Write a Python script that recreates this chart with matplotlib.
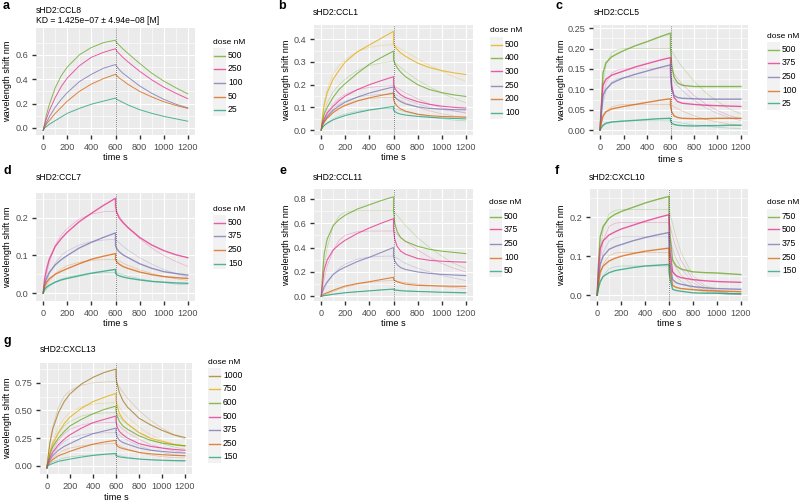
import numpy as np
import matplotlib
matplotlib.use("Agg")
import matplotlib.pyplot as plt
from matplotlib.patches import Rectangle

plt.rcParams['font.family'] = ['Liberation Sans', 'DejaVu Sans']

#       <--- NOTE: DATA --->
#------------------------------------------------------------------------------
# sample times for measured traces (600 twice: step at start of dissociation)
obs_t = [0, 10, 25, 50, 100, 150, 200, 300, 400, 500, 600,
         600, 610, 630, 660, 700, 800, 900, 1000, 1100, 1200]
# sample times for the fitted curves
fit_t = [0, 25, 50, 100, 150, 200, 300, 400, 500, 600,
         650, 700, 800, 900, 1000, 1100, 1200]

# panel a: sHD2:CCL8
a_doses = [500, 250, 100, 50, 25]
a_obs = [
    [-0.02, 0.03, 0.10, 0.19, 0.33, 0.43, 0.50, 0.60, 0.66, 0.70, 0.72, 0.72, 0.70, 0.68, 0.65, 0.615, 0.53, 0.45, 0.385, 0.33, 0.28],
    [-0.02, 0.02, 0.07, 0.14, 0.25, 0.34, 0.41, 0.51, 0.58, 0.62, 0.65, 0.65, 0.63, 0.61, 0.58, 0.545, 0.465, 0.395, 0.335, 0.285, 0.24],
    [-0.02, 0.01, 0.04, 0.09, 0.17, 0.235, 0.29, 0.38, 0.44, 0.49, 0.52, 0.52, 0.505, 0.48, 0.45, 0.42, 0.345, 0.285, 0.235, 0.195, 0.165],
    [-0.02, 0.0, 0.03, 0.06, 0.12, 0.17, 0.22, 0.30, 0.36, 0.405, 0.44, 0.44, 0.43, 0.41, 0.39, 0.36, 0.30, 0.255, 0.215, 0.185, 0.16],
    [-0.02, 0.0, 0.01, 0.03, 0.06, 0.09, 0.12, 0.16, 0.195, 0.22, 0.245, 0.245, 0.235, 0.225, 0.21, 0.19, 0.15, 0.12, 0.095, 0.075, 0.055],
]
a_fit = None

# panel b: sHD2:CCL1
b_doses = [500, 400, 300, 250, 200, 100]
b_obs = [
    [0.0, 0.06, 0.11, 0.165, 0.225, 0.265, 0.30, 0.345, 0.375, 0.405, 0.435, 0.38, 0.37, 0.355, 0.34, 0.325, 0.295, 0.275, 0.262, 0.252, 0.245],
    [0.0, 0.04, 0.07, 0.10, 0.145, 0.18, 0.205, 0.25, 0.29, 0.32, 0.348, 0.31, 0.295, 0.275, 0.255, 0.235, 0.20, 0.178, 0.165, 0.155, 0.148],
    [0.0, 0.03, 0.05, 0.075, 0.105, 0.13, 0.15, 0.178, 0.20, 0.218, 0.235, 0.20, 0.185, 0.17, 0.155, 0.143, 0.125, 0.113, 0.105, 0.10, 0.097],
    [0.0, 0.025, 0.04, 0.06, 0.088, 0.107, 0.123, 0.145, 0.163, 0.177, 0.19, 0.16, 0.148, 0.135, 0.125, 0.115, 0.102, 0.095, 0.092, 0.09, 0.089],
    [0.0, 0.02, 0.035, 0.052, 0.077, 0.095, 0.108, 0.128, 0.142, 0.153, 0.163, 0.135, 0.12, 0.105, 0.093, 0.083, 0.07, 0.063, 0.06, 0.058, 0.057],
    [0.0, 0.012, 0.02, 0.03, 0.045, 0.055, 0.064, 0.077, 0.088, 0.096, 0.104, 0.088, 0.082, 0.075, 0.07, 0.066, 0.06, 0.056, 0.053, 0.051, 0.049],
]
b_fit = [
    [0.0, 0.12, 0.18, 0.25, 0.285, 0.31, 0.345, 0.365, 0.373, 0.376, 0.36, 0.345, 0.315, 0.285, 0.26, 0.235, 0.215],
    [0.0, 0.08, 0.12, 0.17, 0.2, 0.225, 0.262, 0.284, 0.296, 0.302, 0.28, 0.258, 0.22, 0.19, 0.163, 0.14, 0.12],
    [0.0, 0.05, 0.08, 0.115, 0.14, 0.158, 0.178, 0.188, 0.193, 0.196, 0.18, 0.163, 0.138, 0.115, 0.098, 0.085, 0.074],
    [0.0, 0.04, 0.065, 0.095, 0.115, 0.128, 0.145, 0.153, 0.157, 0.159, 0.147, 0.135, 0.115, 0.1, 0.09, 0.083, 0.078],
    [0.0, 0.035, 0.055, 0.083, 0.1, 0.113, 0.13, 0.139, 0.143, 0.145, 0.133, 0.12, 0.1, 0.084, 0.072, 0.062, 0.055],
    [0.0, 0.02, 0.032, 0.05, 0.062, 0.071, 0.083, 0.09, 0.094, 0.096, 0.088, 0.08, 0.068, 0.058, 0.05, 0.044, 0.04],
]

# panel c: sHD2:CCL5
c_doses = [500, 375, 250, 100, 25]
c_obs = [
    [0.0, 0.06, 0.14, 0.165, 0.18, 0.188, 0.195, 0.207, 0.217, 0.228, 0.238, 0.20, 0.16, 0.13, 0.116, 0.11, 0.107, 0.107, 0.107, 0.107, 0.107],
    [0.0, 0.05, 0.11, 0.125, 0.135, 0.14, 0.145, 0.155, 0.163, 0.171, 0.178, 0.15, 0.11, 0.08, 0.07, 0.066, 0.063, 0.061, 0.06, 0.059, 0.058],
    [0.0, 0.04, 0.085, 0.10, 0.115, 0.122, 0.128, 0.137, 0.145, 0.153, 0.16, 0.135, 0.10, 0.085, 0.08, 0.078, 0.077, 0.076, 0.076, 0.076, 0.076],
    [0.0, 0.018, 0.035, 0.045, 0.052, 0.055, 0.058, 0.063, 0.068, 0.073, 0.077, 0.06, 0.045, 0.035, 0.031, 0.029, 0.028, 0.028, 0.029, 0.029, 0.029],
    [0.0, 0.006, 0.012, 0.017, 0.02, 0.021, 0.022, 0.024, 0.026, 0.028, 0.029, 0.022, 0.017, 0.014, 0.012, 0.011, 0.01, 0.011, 0.011, 0.012, 0.012],
]
c_fit = [
    [0.0, 0.11, 0.16, 0.19, 0.198, 0.2, 0.2, 0.2, 0.2, 0.2, 0.175, 0.155, 0.12, 0.092, 0.07, 0.052, 0.04],
    [0.0, 0.08, 0.115, 0.14, 0.148, 0.15, 0.15, 0.15, 0.15, 0.15, 0.13, 0.113, 0.085, 0.064, 0.048, 0.036, 0.027],
    [0.0, 0.065, 0.095, 0.118, 0.126, 0.129, 0.13, 0.13, 0.13, 0.13, 0.112, 0.097, 0.073, 0.055, 0.041, 0.031, 0.023],
    [0.0, 0.03, 0.045, 0.057, 0.061, 0.063, 0.063, 0.063, 0.063, 0.063, 0.054, 0.047, 0.035, 0.026, 0.02, 0.015, 0.011],
    [0.0, 0.01, 0.015, 0.02, 0.022, 0.023, 0.023, 0.023, 0.023, 0.023, 0.02, 0.017, 0.013, 0.01, 0.007, 0.005, 0.004],
]

# panel d: sHD2:CCL7
d_doses = [500, 375, 250, 150]
d_obs = [
    [0.0, 0.035, 0.06, 0.09, 0.124, 0.145, 0.162, 0.19, 0.212, 0.233, 0.252, 0.232, 0.215, 0.2, 0.188, 0.175, 0.148, 0.128, 0.113, 0.102, 0.094],
    [0.0, 0.022, 0.037, 0.055, 0.075, 0.089, 0.1, 0.12, 0.135, 0.148, 0.16, 0.127, 0.118, 0.11, 0.102, 0.095, 0.078, 0.066, 0.057, 0.052, 0.048],
    [0.0, 0.017, 0.027, 0.038, 0.05, 0.058, 0.065, 0.078, 0.09, 0.098, 0.105, 0.09, 0.083, 0.077, 0.071, 0.066, 0.056, 0.049, 0.044, 0.041, 0.039],
    [0.0, 0.01, 0.015, 0.021, 0.029, 0.035, 0.039, 0.046, 0.053, 0.058, 0.063, 0.053, 0.049, 0.046, 0.043, 0.04, 0.035, 0.031, 0.029, 0.027, 0.026],
]
d_fit = [
    [0.0, 0.045, 0.08, 0.128, 0.155, 0.172, 0.197, 0.21, 0.216, 0.218, 0.196, 0.176, 0.145, 0.12, 0.1, 0.084, 0.071],
    [0.0, 0.028, 0.05, 0.08, 0.1, 0.112, 0.128, 0.137, 0.141, 0.143, 0.128, 0.115, 0.094, 0.077, 0.063, 0.052, 0.043],
    [0.0, 0.018, 0.032, 0.052, 0.064, 0.073, 0.082, 0.087, 0.089, 0.09, 0.082, 0.074, 0.062, 0.052, 0.044, 0.038, 0.034],
    [0.0, 0.01, 0.018, 0.03, 0.037, 0.042, 0.049, 0.052, 0.054, 0.055, 0.05, 0.045, 0.038, 0.032, 0.028, 0.024, 0.022],
]

# panel e: sHD2:CCL11
e_doses = [500, 375, 250, 100, 50]
e_obs = [
    [0.0, 0.18, 0.35, 0.47, 0.58, 0.63, 0.665, 0.715, 0.75, 0.785, 0.815, 0.70, 0.60, 0.53, 0.48, 0.45, 0.41, 0.385, 0.37, 0.36, 0.35],
    [0.0, 0.1, 0.22, 0.3, 0.38, 0.425, 0.46, 0.515, 0.56, 0.6, 0.636, 0.55, 0.47, 0.41, 0.37, 0.345, 0.31, 0.295, 0.288, 0.283, 0.28],
    [0.0, 0.04, 0.08, 0.12, 0.18, 0.215, 0.24, 0.285, 0.32, 0.36, 0.40, 0.33, 0.29, 0.26, 0.235, 0.22, 0.2, 0.188, 0.18, 0.175, 0.17],
    [0.0, 0.01, 0.02, 0.03, 0.05, 0.068, 0.085, 0.105, 0.12, 0.138, 0.156, 0.14, 0.13, 0.12, 0.11, 0.1, 0.09, 0.087, 0.085, 0.083, 0.082],
    [0.0, 0.003, 0.006, 0.01, 0.018, 0.024, 0.03, 0.038, 0.045, 0.053, 0.06, 0.055, 0.052, 0.049, 0.046, 0.043, 0.04, 0.037, 0.034, 0.032, 0.03],
]
e_fit = [
    [0.0, 0.25, 0.4, 0.58, 0.66, 0.69, 0.7, 0.7, 0.7, 0.7, 0.64, 0.58, 0.48, 0.4, 0.33, 0.27, 0.23],
    [0.0, 0.15, 0.25, 0.38, 0.46, 0.5, 0.53, 0.535, 0.535, 0.535, 0.49, 0.45, 0.38, 0.32, 0.27, 0.23, 0.2],
    [0.0, 0.06, 0.11, 0.18, 0.23, 0.265, 0.305, 0.322, 0.328, 0.33, 0.3, 0.27, 0.23, 0.2, 0.17, 0.15, 0.13],
    [0.0, 0.01, 0.02, 0.04, 0.06, 0.075, 0.1, 0.115, 0.125, 0.13, 0.12, 0.112, 0.1, 0.09, 0.08, 0.072, 0.065],
    [0.0, 0.004, 0.008, 0.015, 0.022, 0.028, 0.038, 0.046, 0.052, 0.056, 0.052, 0.048, 0.042, 0.037, 0.032, 0.028, 0.025],
]

# panel f: sHD2:CXCL10
f_doses = [750, 500, 375, 250, 150]
f_obs = [
    [0.0, 0.08, 0.15, 0.177, 0.198, 0.208, 0.215, 0.226, 0.237, 0.246, 0.254, 0.2, 0.15, 0.09, 0.075, 0.067, 0.06, 0.058, 0.057, 0.055, 0.053],
    [0.0, 0.06, 0.12, 0.14, 0.155, 0.163, 0.17, 0.18, 0.19, 0.199, 0.207, 0.16, 0.11, 0.06, 0.05, 0.045, 0.04, 0.037, 0.035, 0.034, 0.033],
    [0.0, 0.04, 0.08, 0.1, 0.118, 0.125, 0.13, 0.14, 0.148, 0.155, 0.161, 0.12, 0.08, 0.04, 0.032, 0.028, 0.022, 0.019, 0.017, 0.016, 0.015],
    [0.0, 0.03, 0.06, 0.075, 0.088, 0.095, 0.1, 0.107, 0.113, 0.117, 0.121, 0.09, 0.06, 0.025, 0.02, 0.017, 0.014, 0.012, 0.011, 0.01, 0.009],
    [0.0, 0.018, 0.035, 0.048, 0.058, 0.063, 0.066, 0.071, 0.075, 0.077, 0.079, 0.06, 0.04, 0.015, 0.012, 0.01, 0.006, 0.005, 0.005, 0.004, 0.004],
]
f_fit = [
    [0.0, 0.11, 0.17, 0.21, 0.218, 0.22, 0.22, 0.22, 0.22, 0.22, 0.16, 0.11, 0.05, 0.025, 0.012, 0.006, 0.003],
    [0.0, 0.09, 0.14, 0.177, 0.185, 0.187, 0.187, 0.187, 0.187, 0.187, 0.13, 0.09, 0.04, 0.02, 0.01, 0.005, 0.002],
    [0.0, 0.07, 0.11, 0.14, 0.148, 0.15, 0.15, 0.15, 0.15, 0.15, 0.1, 0.07, 0.032, 0.015, 0.008, 0.004, 0.002],
    [0.0, 0.05, 0.08, 0.102, 0.108, 0.11, 0.11, 0.11, 0.11, 0.11, 0.075, 0.052, 0.024, 0.011, 0.006, 0.003, 0.001],
    [0.0, 0.03, 0.05, 0.068, 0.073, 0.075, 0.075, 0.075, 0.075, 0.075, 0.052, 0.036, 0.016, 0.008, 0.004, 0.002, 0.001],
]

# panel g: sHD2:CXCL13
g_doses = [1000, 750, 600, 500, 375, 250, 150]
g_obs = [
    [-0.02, 0.08, 0.2, 0.33, 0.48, 0.58, 0.65, 0.74, 0.80, 0.845, 0.875, 0.80, 0.74, 0.66, 0.59, 0.53, 0.43, 0.37, 0.32, 0.28, 0.255],
    [-0.02, 0.05, 0.12, 0.2, 0.3, 0.38, 0.44, 0.52, 0.58, 0.62, 0.655, 0.6, 0.54, 0.47, 0.42, 0.38, 0.3, 0.25, 0.22, 0.195, 0.18],
    [-0.02, 0.04, 0.1, 0.17, 0.25, 0.31, 0.36, 0.42, 0.47, 0.51, 0.54, 0.5, 0.45, 0.4, 0.36, 0.33, 0.27, 0.23, 0.205, 0.19, 0.18],
    [-0.02, 0.03, 0.07, 0.12, 0.19, 0.24, 0.28, 0.34, 0.39, 0.42, 0.45, 0.4, 0.35, 0.31, 0.28, 0.25, 0.2, 0.175, 0.16, 0.148, 0.14],
    [-0.02, 0.02, 0.05, 0.09, 0.14, 0.175, 0.2, 0.25, 0.29, 0.315, 0.34, 0.3, 0.26, 0.23, 0.21, 0.195, 0.16, 0.14, 0.13, 0.12, 0.115],
    [-0.02, 0.01, 0.03, 0.055, 0.09, 0.11, 0.13, 0.165, 0.195, 0.215, 0.23, 0.2, 0.18, 0.165, 0.155, 0.145, 0.12, 0.108, 0.1, 0.094, 0.09],
    [-0.02, 0.0, 0.01, 0.02, 0.04, 0.05, 0.06, 0.078, 0.093, 0.104, 0.112, 0.09, 0.085, 0.08, 0.075, 0.07, 0.06, 0.054, 0.05, 0.047, 0.045],
]
g_fit = [
    [0.0, 0.2, 0.35, 0.53, 0.63, 0.68, 0.73, 0.75, 0.758, 0.76, 0.68, 0.61, 0.5, 0.41, 0.34, 0.28, 0.24],
    [0.0, 0.12, 0.22, 0.35, 0.43, 0.48, 0.535, 0.558, 0.567, 0.57, 0.5, 0.44, 0.35, 0.28, 0.23, 0.19, 0.17],
    [0.0, 0.1, 0.18, 0.29, 0.36, 0.4, 0.45, 0.47, 0.478, 0.48, 0.42, 0.37, 0.3, 0.24, 0.2, 0.17, 0.15],
    [0.0, 0.08, 0.14, 0.23, 0.29, 0.33, 0.37, 0.385, 0.39, 0.392, 0.34, 0.3, 0.24, 0.19, 0.16, 0.135, 0.12],
    [0.0, 0.06, 0.1, 0.17, 0.22, 0.25, 0.28, 0.293, 0.298, 0.3, 0.26, 0.23, 0.18, 0.145, 0.12, 0.1, 0.09],
    [0.0, 0.04, 0.07, 0.11, 0.14, 0.16, 0.18, 0.192, 0.198, 0.2, 0.17, 0.15, 0.12, 0.097, 0.082, 0.074, 0.07],
    [0.0, 0.02, 0.035, 0.055, 0.07, 0.08, 0.092, 0.097, 0.099, 0.1, 0.087, 0.077, 0.062, 0.052, 0.046, 0.042, 0.04],
]

# Dark2, assigned from the lowest dose upwards
dark2 = ["#1B9E77", "#D95F02", "#7570B3", "#E7298A", "#66A61E", "#E6AB02", "#A6761D"]

W, H = 800, 504

#       <--- NOTE: LAYOUT (pixels) --->
#------------------------------------------------------------------------------
panels = [
    dict(letter="a", lx=3, ly=6, title="sHD2:CCL8\nKD = 1.425e\u221207 \u00b1 4.94e\u221208 [M]", tx=36, ty=6,
         box=(36, 28, 195, 135), yt=[0.0, 0.2, 0.4, 0.6], fmt="{:.1f}", ylim=(-0.058, 0.82),
         ylx=8, xly=157, leg=(213, 42), lw=0.7, doses=a_doses, obs=a_obs, fit=a_fit),
    dict(letter="b", lx=278, ly=6, title="sHD2:CCL1", tx=313, ty=8,
         box=(314, 25, 473, 135), yt=[0.0, 0.1, 0.2, 0.3, 0.4], fmt="{:.1f}", ylim=(-0.022, 0.463),
         ylx=287, xly=158, leg=(490, 31), lw=0.8, doses=b_doses, obs=b_obs, fit=b_fit),
    dict(letter="c", lx=555, ly=6, title="sHD2:CCL5", tx=594, ty=8,
         box=(593, 25, 748, 135), yt=[0.0, 0.05, 0.10, 0.15, 0.20, 0.25], fmt="{:.2f}", ylim=(-0.012, 0.258),
         ylx=562, xly=159, leg=(767, 36), lw=1.0, doses=c_doses, obs=c_obs, fit=c_fit),
    dict(letter="d", lx=3, ly=171, title="sHD2:CCL7", tx=36, ty=173,
         box=(36, 193, 195, 301), yt=[0.0, 0.1, 0.2], fmt="{:.1f}", ylim=(-0.021, 0.266),
         ylx=8, xly=324, leg=(213, 209), lw=1.0, doses=d_doses, obs=d_obs, fit=d_fit),
    dict(letter="e", lx=280, ly=171, title="sHD2:CCL11", tx=313, ty=173,
         box=(314, 189, 473, 301), yt=[0.0, 0.2, 0.4, 0.6, 0.8], fmt="{:.1f}", ylim=(-0.038, 0.879),
         ylx=287, xly=324, leg=(489, 203), lw=0.8, doses=e_doses, obs=e_obs, fit=e_fit),
    dict(letter="f", lx=555, ly=171, title="sHD2:CXCL10", tx=589, ty=173,
         box=(590, 189, 748, 301), yt=[0.0, 0.1, 0.2], fmt="{:.1f}", ylim=(-0.015, 0.273),
         ylx=562, xly=324, leg=(767, 203), lw=1.0, doses=f_doses, obs=f_obs, fit=f_fit),
    dict(letter="g", lx=3, ly=341, title="sHD2:CXCL13", tx=40, ty=345,
         box=(40, 363, 192, 474), yt=[0.0, 0.25, 0.50, 0.75], fmt="{:.2f}", ylim=(-0.075, 0.93),
         ylx=8, xly=497, leg=(208, 362), lw=0.8, doses=g_doses, obs=g_obs, fit=g_fit),
]

fig = plt.figure(figsize=(W / 100, H / 100), dpi=100)
fig.patch.set_facecolor("white")


def fx(x):
    return x / W


def fy(y):
    return 1 - y / H


def draw_legend(x, y, doses):
    fig.text(fx(x), fy(y), "dose nM", fontsize=6.0, va="center", ha="left")
    step = 13.6
    top = y + 6
    n = len(doses)
    fig.patches.append(Rectangle((fx(x), fy(top + n * step)), 13 / W, n * step / H,
                                 transform=fig.transFigure, facecolor="#F2F2F2",
                                 edgecolor="none", zorder=0))
    for i, d in enumerate(doses):
        yc = round(top + (i + 0.5) * step) + 0.5
        col = dark2[n - 1 - i]
        fig.lines.append(plt.Line2D([fx(x + 1), fx(x + 12)], [fy(yc), fy(yc)],
                                    transform=fig.transFigure, color=col, lw=1.0,
                                    alpha=0.75, zorder=3))
        fig.text(fx(x + 15), fy(yc), str(d), fontsize=6.2, va="center", ha="left")


for p in panels:
    x0, y0, x1, y1 = p["box"]
    ax = fig.add_axes([fx(x0), fy(y1), (x1 - x0) / W, (y1 - y0) / H])
    ax.set_facecolor("#EBEBEB")
    for s in ax.spines.values():
        s.set_visible(False)

    n = len(p["doses"])
    # fitted curves (faint) then measured traces
    if p["fit"] is not None:
        for i, vals in enumerate(p["fit"]):
            ax.plot(fit_t, vals, color=dark2[n - 1 - i], lw=0.5, alpha=0.3, zorder=2)
    for i, vals in enumerate(p["obs"]):
        ax.plot(obs_t, vals, color=dark2[n - 1 - i], lw=p["lw"], alpha=0.75, zorder=3)
    ax.axvline(600, color="#444444", lw=0.6, ls=(0, (1, 1.5)), zorder=4)

    ax.set_xlim(-60, 1260)
    ax.set_xticks(range(0, 1201, 200))
    ax.set_xticks(range(100, 1201, 200), minor=True)
    yt = p["yt"]
    step = yt[1] - yt[0]
    ax.set_yticks(yt)
    ax.set_yticks([v + step / 2 for v in [yt[0] - step] + yt], minor=True)
    ax.set_yticklabels([p["fmt"].format(v) for v in yt])
    ax.set_ylim(*p["ylim"])
    ax.grid(which="major", color="white", lw=0.8, zorder=0)
    ax.grid(which="minor", color="white", lw=0.4, zorder=0)
    ax.set_axisbelow(True)
    ax.tick_params(which="major", length=3, width=1.0, color="#333333",
                   labelsize=6.6, labelcolor="#4D4D4D", pad=2.5)
    ax.tick_params(which="minor", length=0)

    fig.text(fx((x0 + x1) / 2), fy(p["xly"]), "time s", fontsize=6.6, ha="center", va="center")
    fig.text(fx(p["ylx"]), fy((y0 + y1) / 2), "wavelength shift nm", fontsize=6.6,
             ha="center", va="center", rotation=90)
    fig.text(fx(p["tx"]), fy(p["ty"]), p["title"], fontsize=6.2, ha="left", va="top",
             linespacing=1.2)
    fig.text(fx(p["lx"]), fy(p["ly"]), p["letter"], fontsize=9, fontweight="bold",
             ha="left", va="center")
    draw_legend(p["leg"][0], p["leg"][1], p["doses"])

fig.savefig("out.png", dpi=100)
